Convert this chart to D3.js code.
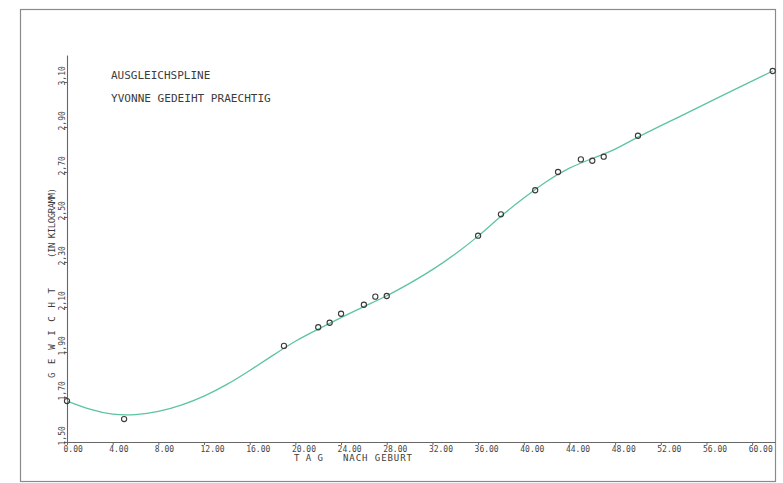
<!DOCTYPE html>
<html>
<head>
<meta charset="utf-8">
<script src="https://cdn.jsdelivr.net/npm/d3@7"></script>
<style>
  html, body { margin: 0; padding: 0; background: #ffffff; }
  svg { display: block; }
  text { font-family: "DejaVu Sans Mono", "Liberation Mono", monospace; fill: #3c3c3c; }
</style>
</head>
<body>
<svg id="chart" width="783" height="483"></svg>
<script>
// Measured weights (kg) by day after birth
const days    = [0, 5, 19, 22, 23, 24, 26, 27, 28, 36, 38, 41, 43, 45, 46, 47, 50, 61.8];
const weights = [1.682, 1.602, 1.927, 2.010, 2.030, 2.070, 2.110, 2.146, 2.149, 2.417, 2.512, 2.619, 2.700, 2.756, 2.750, 2.768, 2.861, 3.149];

// Smoothing spline (Ausgleichspline) sampled along the day axis
const splineDays    = [0, 2, 4, 6, 8, 10, 12, 14, 16, 18, 20, 22, 24, 26, 28, 30, 32, 34, 36, 38, 40, 42, 44, 46, 48, 50, 54, 58, 61.8];
const splineWeights = [1.682, 1.646, 1.624, 1.622, 1.636, 1.664, 1.704, 1.756, 1.818, 1.884, 1.948, 2.002, 2.053, 2.102, 2.150, 2.205, 2.266, 2.336, 2.415, 2.503, 2.584, 2.658, 2.717, 2.760, 2.802, 2.855, 2.955, 3.055, 3.149];

// Axis ticks
const xTicks = [0, 4, 8, 12, 16, 20, 24, 28, 32, 36, 40, 44, 48, 52, 56, 60];
const yTicks = [1.5, 1.7, 1.9, 2.1, 2.3, 2.5, 2.7, 2.9, 3.1];

const titleLines = ["AUSGLEICHSPLINE", "YVONNE GEDEIHT PRAECHTIG"];
const xTitle = ["T A G", "NACH GEBURT"];
const yTitle = ["G E W I C H T", "(IN KILOGRAMM)"];

const svg = d3.select("#chart");

const x = d3.scaleLinear().domain([0, 62]).range([67, 775]);
const y = d3.scaleLinear().domain([1.5, 3.22]).range([442, 55]);

// Page frame
svg.append("rect")
  .attr("x", 20.5).attr("y", 9.5)
  .attr("width", 755).attr("height", 472)
  .attr("fill", "none")
  .attr("stroke", "#8a8a8a")
  .attr("stroke-width", 1.2);

// X axis
const fmtX = d3.format(".2f");
const xAxis = svg.append("g").attr("transform", "translate(0,442)")
  .call(d3.axisBottom(x).tickValues(xTicks).tickSize(3).tickSizeOuter(0).tickFormat(fmtX));
xAxis.select(".domain").attr("stroke", "#666").attr("stroke-width", 1.1);
xAxis.selectAll(".tick line").attr("stroke", "#666");
xAxis.selectAll(".tick text")
  .attr("text-anchor", "start")
  .attr("dx", -4)
  .attr("y", 10)
  .attr("dy", 0)
  .style("font-size", "8px")
  .style("fill", "#444");

// Y axis
const fmtY = v => d3.format(".2f")(v).replace(".", ",");
const yAxis = svg.append("g").attr("transform", "translate(67,0)")
  .call(d3.axisLeft(y).tickValues(yTicks).tickSize(3).tickSizeOuter(0).tickFormat(fmtY));
yAxis.select(".domain").attr("stroke", "#666").attr("stroke-width", 1.1);
yAxis.selectAll(".tick line").attr("stroke", "#666");
yAxis.selectAll(".tick text")
  .attr("text-anchor", "start")
  .attr("x", null).attr("dy", null)
  .attr("transform", "translate(-2,3) rotate(-90)")
  .style("font-size", "8px")
  .style("fill", "#444");

// Fitted curve
const line = d3.line()
  .x((d, i) => x(splineDays[i]))
  .y(d => y(d))
  .curve(d3.curveNatural);
svg.append("path")
  .datum(splineWeights)
  .attr("d", line)
  .attr("fill", "none")
  .attr("stroke", "#5cc3a4")
  .attr("stroke-width", 1.3);

// Measurements
svg.append("g").selectAll("circle")
  .data(weights)
  .join("circle")
  .attr("cx", (d, i) => x(days[i]))
  .attr("cy", d => y(d))
  .attr("r", 2.6)
  .attr("fill", "none")
  .attr("stroke", "#3a3a3a")
  .attr("stroke-width", 1.1);

// Title block
svg.append("g").selectAll("text")
  .data(titleLines)
  .join("text")
  .attr("x", 111)
  .attr("y", (d, i) => 79 + i * 23)
  .style("font-size", "11px")
  .attr("textLength", d => d.length * 6.72 - 1.5)
  .attr("lengthAdjust", "spacingAndGlyphs")
  .text(d => d);

// X axis title
svg.append("text").attr("x", 294).attr("y", 461)
  .style("font-size", "9px")
  .attr("textLength", 29).attr("lengthAdjust", "spacing")
  .text(xTitle[0]);
svg.append("text").attr("x", 343).attr("y", 461)
  .style("font-size", "9px")
  .attr("textLength", 69).attr("lengthAdjust", "spacing")
  .text(xTitle[1]);

// Y axis title
svg.append("text")
  .attr("transform", "translate(55,378) rotate(-90)")
  .style("font-size", "9px")
  .attr("textLength", 90).attr("lengthAdjust", "spacing")
  .text(yTitle[0]);
svg.append("text")
  .attr("transform", "translate(55,258) rotate(-90)")
  .style("font-size", "9px")
  .attr("textLength", 70).attr("lengthAdjust", "spacing")
  .text(yTitle[1]);
</script>
</body>
</html>
